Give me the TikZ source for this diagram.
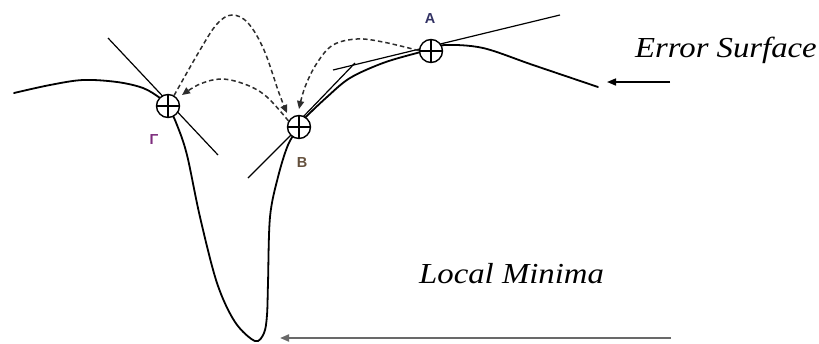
\documentclass[tikz,border=0pt]{standalone}
\usepackage{fontspec}
\setmainfont{Liberation Serif}
\newfontfamily\captfont[FakeStretch=1.13]{Liberation Serif}
\newfontfamily\labfont{Liberation Sans}
\usetikzlibrary{arrows.meta}
\definecolor{labA}{RGB}{50,50,100}
\definecolor{labB}{RGB}{100,80,60}
\definecolor{labG}{RGB}{125,45,125}
\definecolor{arrgray}{RGB}{105,105,105}
\definecolor{dashgray}{RGB}{45,45,45}
\tikzset{
  surface/.style={line width=1.8pt, line join=round, line cap=round},
  tangent/.style={line width=1.2pt},
  jump/.style={dashgray, line width=1.5pt, dash pattern=on 4.5pt off 3pt, -{Triangle[length=8pt,width=7pt]}},
  marker/.style={circle, draw, line width=1.4pt, fill=white, minimum size=23pt, inner sep=0pt,
    path picture={\draw[line width=1.6pt] (path picture bounding box.north) -- (path picture bounding box.south)
      (path picture bounding box.west) -- (path picture bounding box.east);}},
  ptlabel/.style={font=\labfont\fontsize{14.5}{16}\selectfont\bfseries, inner sep=0pt},
  caption/.style={font=\captfont\itshape\fontsize{29}{34}\selectfont, inner sep=0pt},
  pointer/.style={line width=1.6pt, -{Triangle[length=9pt,width=7pt]}}
}
\begin{document}
\begin{tikzpicture}[x=1pt,y=-1pt]
\useasboundingbox (0,0) rectangle (819,343);
% named points
\coordinate (L0) at (14,93);
\coordinate (R0) at (598,87);
\coordinate (bottom) at (255,341);
% error surface curve
\draw[surface] plot[smooth, tension=0.55] coordinates {(L0) (50,85) (83,80) (117,82) (143,88) (160,98) (168,106)
  (177,125) (187,155) (200,217) (217,283) (235,322) (bottom) (264,333) (267,315) (268,283) (270,217) (278,177) (288,145) (299,127)
  (305,118) (327,97) (350,78) (383,63) (417,53) (431,50) (445,45) (483,48) (533,65) (R0)};
% tangent lines
\coordinate (tg1) at (108,38);
\coordinate (tg2) at (218,155);
\coordinate (tb1) at (248,178);
\coordinate (ta1) at (333,70);
\coordinate (ta2) at (560,15);
\coordinate (tj) at (355,63);
\draw[tangent] (tg1) -- (tg2);
\draw[tangent] (tb1) -- (299,127);
\draw[tangent] (ta1) -- (ta2);
\draw[tangent] (303,117) -- (tj);
% markers
\node[marker] (G) at (168,106) {};
\node[marker] (B) at (299,127) {};
\node[marker] (A) at (431,51) {};
% labels
\node[ptlabel, text=labG] (lG) at (154,140) {Γ};
\node[ptlabel, text=labB] (lB) at (302,163) {B};
\node[ptlabel, text=labA] (lA) at (430,19) {A};
% dashed jumps
\draw[jump] plot[smooth, tension=0.6] coordinates {(G.60) (200,50) (217,24) (232,15) (248,23) (264,50) (279,93) (287,113)};
\draw[jump] plot[smooth, tension=0.6] coordinates {(B.150) (267,97) (247,85) (222,79) (200,84) (182,95)};
\draw[jump] plot[smooth, tension=0.6] coordinates {(A.178) (383,42) (357,39) (333,45) (317,63) (305,87) (299,109)};
% captions
\node[caption, anchor=base east] (es) at (817,57) {Error Surface};
\node[caption, anchor=base west] (lm) at (419,283) {Local Minima};
\coordinate (esTail) at (670,82);
\coordinate (esTip) at (607,82);
\coordinate (lmTail) at (671,338);
\coordinate (lmTip) at (280,338);
\draw[pointer] (esTail) -- (esTip);
\draw[pointer, arrgray, line width=2pt] (lmTail) -- (lmTip);
\end{tikzpicture}
\end{document}
